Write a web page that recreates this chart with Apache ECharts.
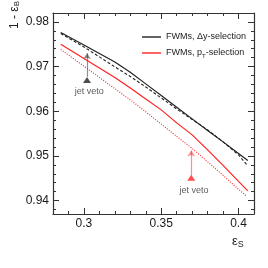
<!DOCTYPE html>
<html><head><meta charset="utf-8">
<script src="https://cdn.jsdelivr.net/npm/echarts@6/dist/echarts.min.js"></script>
<style>html,body{margin:0;padding:0;background:#fff}#c{width:268px;height:268px}</style>
</head><body><div id="c"></div>
<script>
// ---- data ----
var xVals = [0.285, 0.30, 0.31, 0.32, 0.33, 0.34, 0.35, 0.36, 0.37, 0.38, 0.39, 0.40, 0.406];
var xValsDotted = [0.285, 0.30, 0.31, 0.32, 0.33, 0.34, 0.35, 0.36, 0.37, 0.38, 0.39, 0.40, 0.405];
var dySolid  = [0.97765, 0.97485, 0.97295, 0.97105, 0.96874, 0.96613, 0.96353, 0.96089, 0.95830, 0.95570, 0.95315, 0.95056, 0.94900];
var dyDashed = [0.97743, 0.97441, 0.97217, 0.96994, 0.96779, 0.96544, 0.96298, 0.96051, 0.95817, 0.95582, 0.95315, 0.95022, 0.94779];
var ptSolid  = [0.97499, 0.97183, 0.96971, 0.96758, 0.96523, 0.96277, 0.96031, 0.95740, 0.95472, 0.95136, 0.94790, 0.94432, 0.94219];
var ptDotted = [0.97385, 0.97009, 0.96758, 0.96506, 0.96255, 0.95987, 0.95711, 0.95438, 0.95170, 0.94869, 0.94567, 0.94253, 0.94107];
var seriesNames = ['FWMs, \u0394y-selection', 'FWMs, p_T-selection'];

var arrowX = [0.302, 0.3694];
var arrowFrom = [0.9677, 0.9456];
var arrowTo = [0.9730, 0.9512];
var triangleY = [0.9670, 0.9451];
var vetoLabelX = [0.3035, 0.3712];
var vetoLabelY = [0.9644, 0.9423];
var vetoText = 'jet veto';

var xTickLabels = [0.3, 0.35, 0.4];
var yTickLabels = [0.94, 0.95, 0.96, 0.97, 0.98];
var xMin = 0.28, xMax = 0.41, yMin = 0.937, yMax = 0.982;

// minor tick positions
var xMinor = [], yMinor = [];
for (var i = 28; i <= 41; i++) xMinor.push(i / 100);
for (var j = 938; j <= 982; j += 2) yMinor.push(j / 1000);

function pairs(xs, ys) { return xs.map(function (x, k) { return [x, ys[k]]; }); }

var FONT = 'Liberation Sans, Arial, Helvetica, sans-serif';
var AX = '#333';
var BLACK = '#222';
var RED = '#ff2020';

function xAxisDef(pos, major, showLine, showLabel) {
  return {
    type: 'value', position: pos, min: xMin, max: xMax,
    axisLine: { show: showLine, onZero: false, lineStyle: { color: AX, width: 1.2 } },
    axisTick: { show: true, inside: true, length: major ? 6 : 3, customValues: major ? xTickLabels : xMinor, lineStyle: { color: AX, width: 1 } },
    axisLabel: { show: showLabel, customValues: xTickLabels, margin: 4, color: '#1a1a1a', fontSize: 12, fontFamily: FONT,
      formatter: function (v) { return String(v); } },
    splitLine: { show: false }
  };
}
function yAxisDef(pos, major, showLine, showLabel) {
  return {
    type: 'value', position: pos, min: yMin, max: yMax,
    axisLine: { show: showLine, onZero: false, lineStyle: { color: AX, width: 1.2 } },
    axisTick: { show: true, inside: true, length: major ? 6 : 3, customValues: major ? yTickLabels : yMinor, lineStyle: { color: AX, width: 1 } },
    axisLabel: { show: showLabel, customValues: yTickLabels, margin: 4, color: '#1a1a1a', fontSize: 12, fontFamily: FONT,
      formatter: function (v) { return String(v); } },
    splitLine: { show: false }
  };
}

var chart = echarts.init(document.getElementById('c'), null, { renderer: 'canvas' });
chart.setOption({
  animation: false,
  backgroundColor: '#fff',
  grid: { left: 53, right: 14, top: 13, bottom: 54 },
  xAxis: [xAxisDef('bottom', true, true, true), xAxisDef('bottom', false, false, false),
          xAxisDef('top', true, true, false), xAxisDef('top', false, false, false)],
  yAxis: [yAxisDef('left', true, true, true), yAxisDef('left', false, false, false),
          yAxisDef('right', true, true, false), yAxisDef('right', false, false, false)],
  legend: {
    orient: 'vertical', left: 137, top: 26, itemWidth: 19, itemHeight: 1.4, itemGap: 4,
    data: seriesNames.map(function (n) { return { name: n, icon: 'rect' }; }),
    textStyle: { fontSize: 9, fontFamily: FONT, color: '#222', lineHeight: 12,
      rich: { sub: { fontSize: 6, fontFamily: FONT, color: '#222', verticalAlign: 'bottom', lineHeight: 12, padding: [4, 0, 0, 0] } } },
    formatter: function (n) { return n.replace('_T', '{sub|T}'); }
  },
  graphic: [
    { type: 'text', x: 8, y: 29, rotation: Math.PI / 2,
      style: { text: '1 - \u03b5{sub|B}', font: '12px ' + FONT, fill: '#222',
        rich: { sub: { fontSize: 8, fontFamily: FONT, fill: '#222', padding: [5, 0, 0, 0] } } } },
    { type: 'text', x: 232, y: 234,
      style: { text: '\u03b5{sub|S}', font: '13px ' + FONT, fill: '#222',
        rich: { sub: { fontSize: 9, fontFamily: FONT, fill: '#222', padding: [6, 0, 0, 0] } } } }
  ],
  series: [
    { name: seriesNames[0], type: 'line', data: pairs(xVals, dySolid), symbol: 'none',
      lineStyle: { color: BLACK, width: 1.2 }, itemStyle: { color: BLACK } },
    { name: 'dyDashed', type: 'line', data: pairs(xVals, dyDashed), symbol: 'none',
      lineStyle: { color: BLACK, width: 1.1, type: [3, 2] } },
    { name: seriesNames[1], type: 'line', data: pairs(xVals, ptSolid), symbol: 'none',
      lineStyle: { color: RED, width: 1.2 }, itemStyle: { color: RED } },
    { name: 'ptDotted', type: 'line', data: pairs(xValsDotted, ptDotted), symbol: 'none',
      lineStyle: { color: RED, width: 1.1, type: [1, 1.5] } },
    { type: 'lines', coordinateSystem: 'cartesian2d', symbol: ['none', 'arrow'], symbolSize: 6,
      data: arrowX.map(function (x, k) {
        return { coords: [[x, arrowFrom[k]], [x, arrowTo[k]]], lineStyle: { color: k ? RED : BLACK, width: 1.2 } };
      }) },
    { type: 'scatter', symbol: 'triangle', symbolSize: [8, 6],
      data: arrowX.map(function (x, k) { return { value: [x, triangleY[k]], itemStyle: { color: k ? RED : BLACK } }; }) },
    { type: 'scatter', symbolSize: 0.01,
      data: vetoLabelX.map(function (x, k) { return [x, vetoLabelY[k]]; }),
      label: { show: true, position: 'inside', formatter: vetoText, fontSize: 9, fontFamily: FONT, color: '#333' } }
  ]
});
</script></body></html>
